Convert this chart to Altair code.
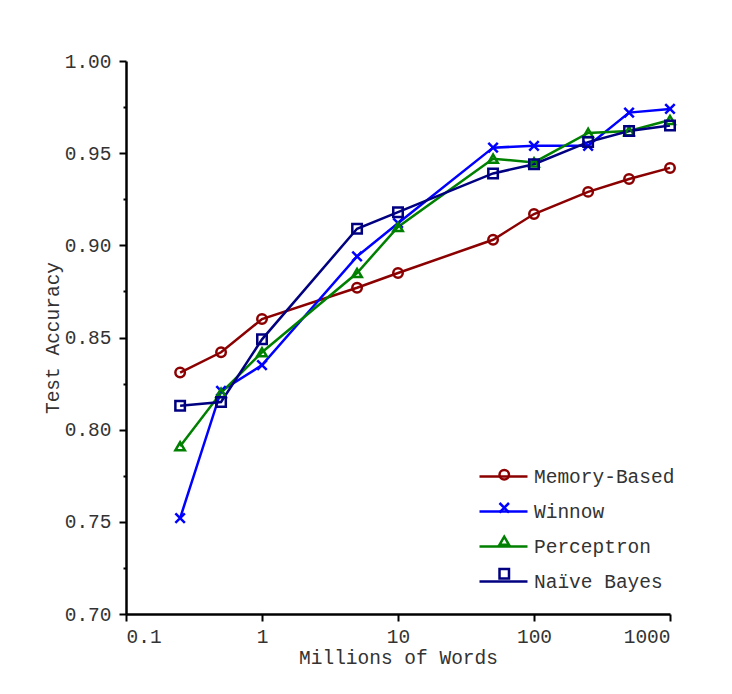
import altair as alt
import pandas as pd

# ---- data ----
words = [0.25, 0.5, 1, 5, 10, 50, 100, 250, 500, 1000]
memory_based = [0.831, 0.842, 0.860, 0.877, 0.885, 0.903, 0.917, 0.929, 0.936, 0.942]
winnow = [0.752, 0.821, 0.835, 0.894, 0.912, 0.953, 0.954, 0.954, 0.972, 0.974]
perceptron = [0.791, 0.820, 0.842, 0.885, 0.910, 0.947, 0.945, 0.961, 0.962, 0.968]
naive_bayes = [0.813, 0.815, 0.849, 0.909, 0.918, 0.939, 0.944, 0.956, 0.962, 0.965]

series_names = ["Memory-Based", "Winnow", "Perceptron", "Naïve Bayes"]
series_colors = ["#8b0000", "#0000ff", "#008000", "#000080"]
series_shapes = ["circle", "M-1,-1L1,1M-1,1L1,-1", "triangle-up", "square"]

x_ticks = [0.1, 1, 10, 100, 1000]
y_ticks = [0.70, 0.75, 0.80, 0.85, 0.90, 0.95, 1.00]
y_minor = [0.725, 0.775, 0.825, 0.875, 0.925, 0.975]

rows = []
for name, vals in zip(series_names, [memory_based, winnow, perceptron, naive_bayes]):
    for w, v in zip(words, vals):
        rows.append({"words": w, "acc": v, "series": name})
df = pd.DataFrame(rows)

FONT = "Liberation Mono, Courier New, monospace"
FS = 19.5
TXT = "#333333"

xscale = alt.Scale(type="log", domain=[0.1, 1000], nice=False)
yscale = alt.Scale(domain=[0.70, 1.00], nice=False, zero=False)

x_axis = alt.Axis(values=x_ticks, format="~g", title="Millions of Words",
                  grid=False, tickSize=7, labelPadding=6, titlePadding=3)

LX, LY = 352, 390

line = alt.Chart(df).mark_line(strokeWidth=2.5).encode(
    x=alt.X("words:Q", scale=xscale, axis=x_axis),
    y=alt.Y("acc:Q", scale=yscale,
            axis=alt.Axis(values=y_ticks, format=".2f", title="Test Accuracy",
                          grid=False, tickSize=7, labelPadding=8, titlePadding=2,
                          orient="left")),
    color=alt.Color("series:N",
                    scale=alt.Scale(domain=series_names, range=series_colors),
                    sort=series_names,
                    legend=alt.Legend(orient="none", legendX=LX, legendY=LY, title=None,
                                      symbolType="stroke", symbolSize=2304,
                                      symbolStrokeWidth=2.5, labelFont=FONT,
                                      labelFontSize=FS, labelColor=TXT, labelOffset=5,
                                      rowPadding=-15, padding=0)),
    order=alt.Order("words:Q"),
)

pt_legend = alt.Legend(orient="none", legendX=LX + 16.5, legendY=404, title=None,
                       symbolSize=90, symbolStrokeWidth=2.5, labelFont=FONT,
                       labelFontSize=FS, labelExpr="''", labelOffset=0,
                       rowPadding=12, padding=0)

points = alt.Chart(df).mark_point(filled=False, strokeWidth=2.5, size=90, opacity=1).encode(
    x=alt.X("words:Q", scale=xscale, axis=x_axis),
    y=alt.Y("acc:Q", scale=yscale,
            axis=alt.Axis(values=y_minor, labels=False, domain=False, grid=False,
                          tickSize=3, title=None, orient="left")),
    stroke=alt.Stroke("series:N",
                      scale=alt.Scale(domain=series_names, range=series_colors),
                      sort=series_names, legend=pt_legend),
    shape=alt.Shape("series:N",
                    scale=alt.Scale(domain=series_names, range=series_shapes),
                    sort=series_names, legend=pt_legend),
)

chart = alt.layer(line, points).resolve_axis(y="independent").resolve_legend(
    color="independent", stroke="independent", shape="independent"
).properties(
    width=544, height=553,
    autosize=alt.AutoSizeParams(type="none"),
    padding={"left": 118, "top": 53, "right": 50, "bottom": 70},
    background="white",
).configure_view(stroke=None).configure_axis(
    labelFont=FONT, labelFontSize=FS, labelColor=TXT,
    titleFont=FONT, titleFontSize=FS, titleColor=TXT, titleFontWeight="normal",
    domainColor="black", domainWidth=2.5, tickColor="black", tickWidth=2,
)

chart.save("out.html", embed_options={"renderer": "svg", "actions": False})
